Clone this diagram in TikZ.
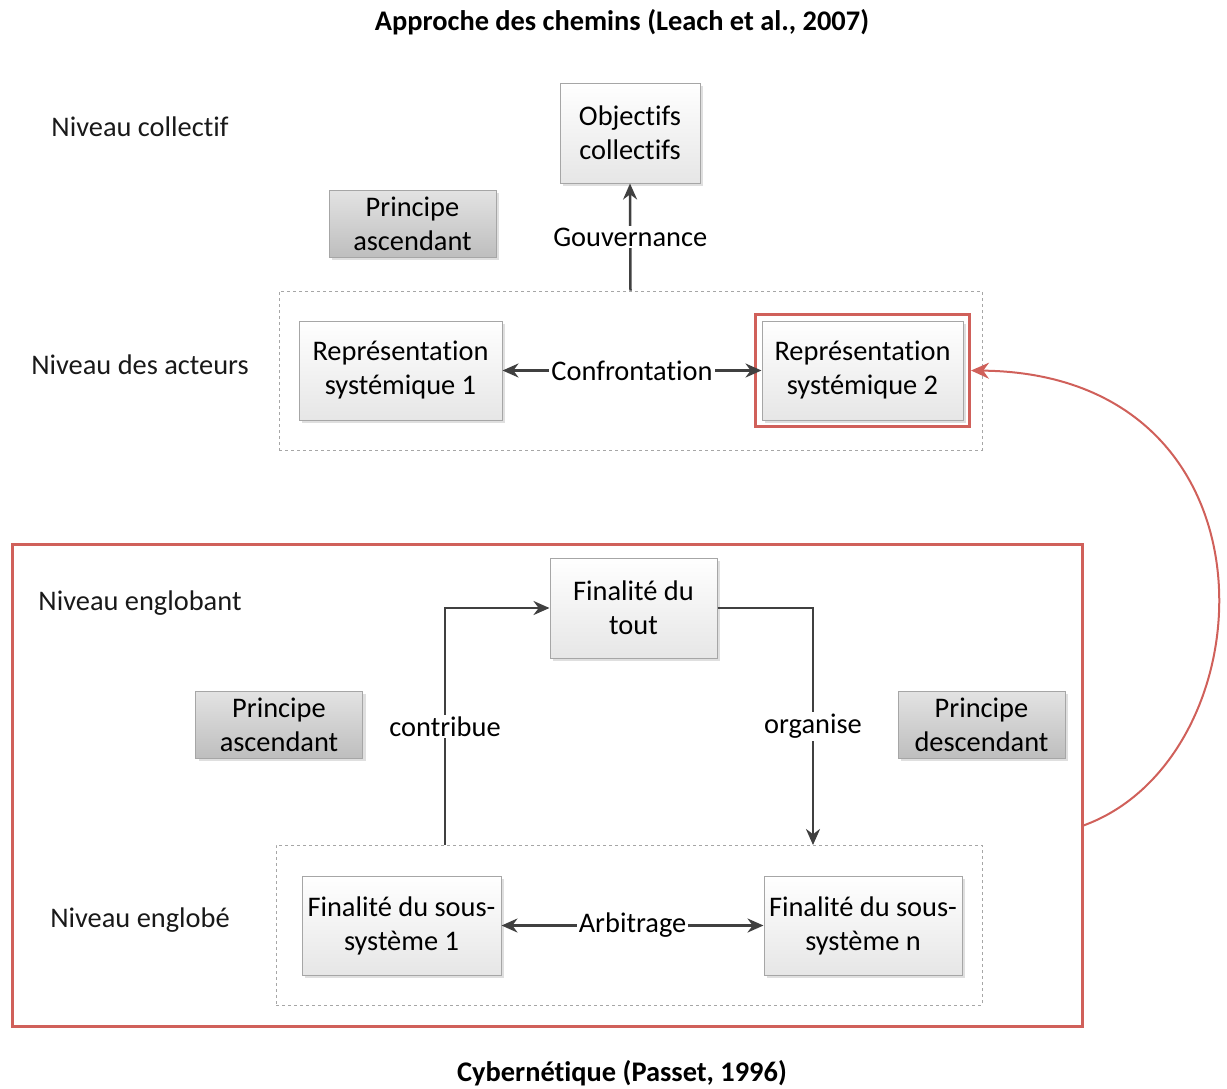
\documentclass[tikz,border=0pt]{standalone}
\usepackage{fontspec}
\setmainfont[RawFeature={-liga;-clig;-dlig;-calt}]{Carlito}
\usepackage{tikz}
\usetikzlibrary{arrows.meta, positioning, fit, shadows, calc}
\definecolor{BoxLine}{HTML}{A6A6A6}
\definecolor{BoxTop}{HTML}{FFFFFF}
\definecolor{BoxBottom}{HTML}{E6E6E6}
\definecolor{GreyTop}{HTML}{E3E3E3}
\definecolor{GreyBottom}{HTML}{BEBEBE}
\definecolor{ArrowGrey}{HTML}{404040}
\definecolor{FrameRed}{HTML}{D0605A}
\tikzset{
  basefont/.style={font=\fontsize{28.4}{34}\selectfont},
  levelbox/.style={rectangle, draw=BoxLine, line width=1pt, top color=BoxTop, bottom color=BoxBottom, basefont, align=center, inner sep=0pt, drop shadow={shadow xshift=3pt, shadow yshift=-3pt, opacity=0.25}},
  principlebox/.style={rectangle, draw=BoxLine, line width=1pt, top color=GreyTop, bottom color=GreyBottom, basefont, align=center, inner sep=0pt, minimum width=167pt, minimum height=67pt, drop shadow={shadow xshift=3pt, shadow yshift=-3pt, opacity=0.25}},
  groupbox/.style={rectangle, draw=BoxLine, dashed, line width=0.8pt, inner sep=0pt},
  redframe/.style={rectangle, draw=FrameRed, line width=3pt, inner sep=0pt},
  levellabel/.style={basefont, text=black!90},
  linklabel/.style={basefont, fill=white, text=black, inner sep=2pt},
  titlelabel/.style={font=\fontsize{28.4}{34}\selectfont\bfseries},
  arrow/.style={-{Stealth[length=16pt, width=14pt]}, line width=2.5pt, ArrowGrey},
  twoarrow/.style={{Stealth[length=16pt, width=14pt]}-{Stealth[length=16pt, width=14pt]}, line width=2.5pt, ArrowGrey},
  redarrow/.style={-{Stealth[length=18pt, width=16pt]}, line width=2pt, FrameRed}
}

\begin{document}
\begin{tikzpicture}[x=1pt, y=-1pt]
  \useasboundingbox (0,0) rectangle (1227,1088);

  % Titles
  \node[titlelabel] (titleTop) at (622,22) {Approche des chemins (Leach et al., 2007)};
  \node[titlelabel] (titleBottom) at (622,1073) {Cybernétique (Passet, 1996)};

  % Level labels
  \node[levellabel] (lvlCollectif) at (140,127) {Niveau collectif};
  \node[levellabel] (lvlActeurs) at (140,365) {Niveau des acteurs};
  \node[levellabel] (lvlEnglobant) at (140,603) {Niveau englobant};
  \node[levellabel] (lvlEnglobe) at (140,920) {Niveau englobé};

  % Path approach
  \node[groupbox, minimum width=703pt, minimum height=159pt] (acteurs) at (630.5,370.5) {};
  \node[levelbox, minimum width=140pt, minimum height=100pt] (objectifs) at (630,133) {Objectifs\\collectifs};
  \node[principlebox] (principeA) at (412.5,223.5) {Principe\\ascendant};
  \node[levelbox, minimum width=203pt, minimum height=99pt] (rep1) at (400.5,370.5) {Représentation\\systémique 1};
  \node[levelbox, minimum width=201pt, minimum height=99pt] (rep2) at (862.5,370.5) {Représentation\\systémique 2};
  \node[redframe, fit=(rep2), inner sep=6pt] (rep2frame) {};

  \draw[arrow] (acteurs.north) -- node[linklabel] {Gouvernance} (objectifs.south);
  \draw[twoarrow] (rep1.east) -- node[linklabel] {Confrontation} (rep2.west);

  % Cybernetics
  \node[redframe, minimum width=1070pt, minimum height=482pt] (cyber) at (547,785) {};
  \node[groupbox, minimum width=706pt, minimum height=160pt] (englobe) at (629,925) {};
  \node[levelbox, minimum width=167pt, minimum height=100pt] (finTout) at (633.5,608) {Finalité du\\tout};
  \node[principlebox] (principeB) at (279,724.5) {Principe\\ascendant};
  \node[principlebox] (principeC) at (981.5,724.5) {Principe\\descendant};
  \node[levelbox, minimum width=199pt, minimum height=99pt] (fin1) at (401.5,925.5) {Finalité du sous-\\système 1};
  \node[levelbox, minimum width=198pt, minimum height=99pt] (finN) at (863,925.5) {Finalité du sous-\\système n};

  \coordinate (contStart) at (445,845);
  \coordinate (orgEnd) at (813,845);
  \draw[arrow] (contStart) -- node[linklabel, pos=0.5] {contribue} (contStart |- finTout.west) -- (finTout.west);
  \draw[arrow] (finTout.east) -- (orgEnd |- finTout.east) -- node[linklabel, pos=0.5] {organise} (orgEnd);
  \draw[twoarrow] (fin1.east) -- node[linklabel] {Arbitrage} (finN.west);

  % Link between the two approaches
  \coordinate (arcStart) at (1082,826);
  \draw[redarrow] (arcStart) .. controls (1270,760) and (1290,374) .. (rep2frame.east);
\end{tikzpicture}
\end{document}
